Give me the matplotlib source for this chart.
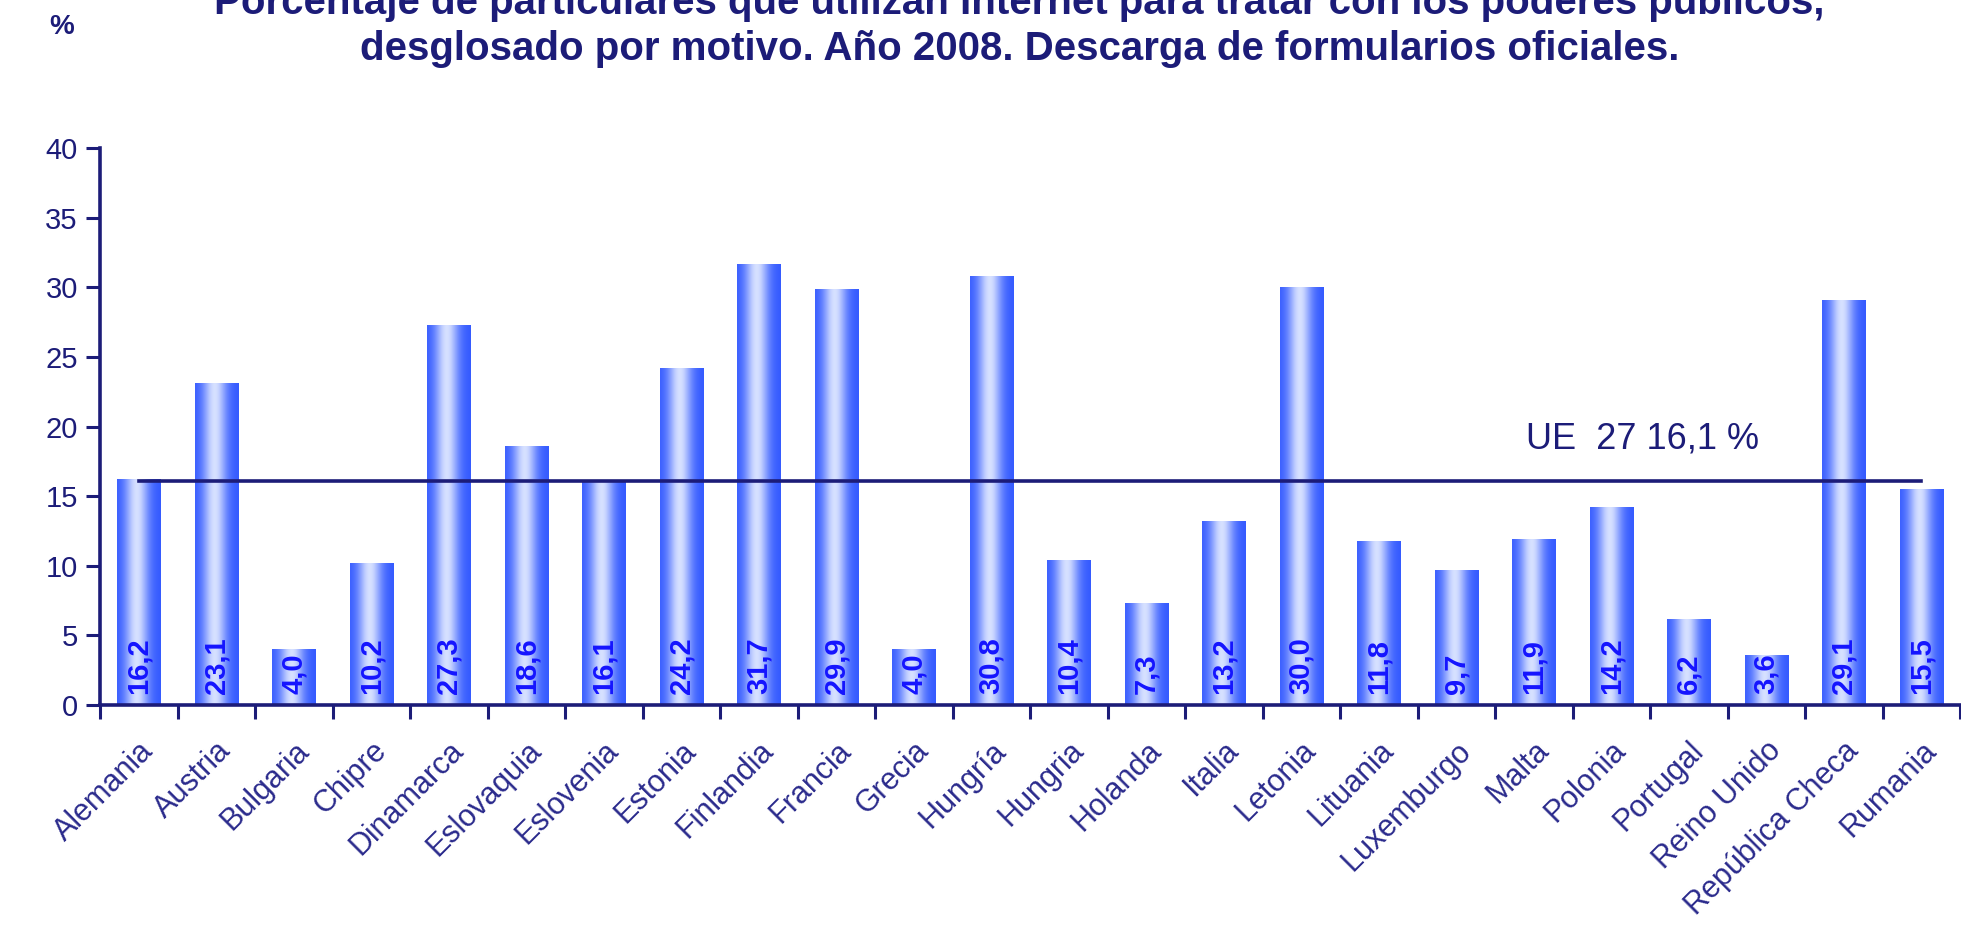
import numpy as np
import matplotlib
matplotlib.use("Agg")
import matplotlib.pyplot as plt

# ---------- DATA ----------
paises = ["Alemania", "Austria", "Bulgaria", "Chipre", "Dinamarca", "Eslovaquia",
          "Eslovenia", "Estonia", "Finlandia", "Francia", "Grecia", "Hungría",
          "Hungria", "Holanda", "Italia", "Letonia", "Lituania", "Luxemburgo",
          "Malta", "Polonia", "Portugal", "Reino Unido", "República Checa", "Rumania"]
valores = [16.2, 23.1, 4.0, 10.2, 27.3, 18.6, 16.1, 24.2, 31.7, 29.9, 4.0, 30.8,
           10.4, 7.3, 13.2, 30.0, 11.8, 9.7, 11.9, 14.2, 6.2, 3.6, 29.1, 15.5]
ue27 = 16.1
yticks = [0, 5, 10, 15, 20, 25, 30, 35, 40]

titulo1 = "Porcentaje de particulares que utilizan Internet para tratar con los poderes públicos,"
titulo2 = "desglosado por motivo. Año 2008. Descarga de formularios oficiales."
# --------------------------

NAVY = "#1c1c78"
LABEL = "#2a2a8c"
VALUE = "#1414ff"

plt.rcParams["font.family"] = ["Liberation Sans", "DejaVu Sans"]

fig = plt.figure(figsize=(19.61, 9.32), dpi=100)
ax = fig.add_axes([100 / 1961, 227 / 932, 1860 / 1961, 557 / 932])

x = np.arange(len(paises))
bars = ax.bar(x, valores, width=0.56, color="none", edgecolor="none", zorder=2)

# cylinder-like shading across each bar
t = np.linspace(0, 1, 80)
edge = np.array([0.20, 0.35, 1.0])
light = np.array([0.84, 0.88, 1.0])
w = np.exp(-((t - 0.45) / 0.27) ** 2)
grad = (edge[None, :] * (1 - w[:, None]) + light[None, :] * w[:, None])[None, :, :]
for b in bars:
    x0, h, bw = b.get_x(), b.get_height(), b.get_width()
    im = ax.imshow(grad, extent=(x0, x0 + bw, 0, h), aspect="auto",
                   interpolation="bilinear", zorder=2)
    im.set_clip_path(b)
    ax.text(x0 + bw / 2, 0.8, f"{h:.1f}".replace(".", ","), rotation=90,
            ha="center", va="bottom", color=VALUE, fontsize=21,
            fontweight="bold", zorder=4)

ax.plot([x[0], x[-1]], [ue27, ue27], color=NAVY, lw=2.6, zorder=3)
ax.text(17.9, 19.1, "UE  27 16,1 %", color=NAVY, fontsize=26, ha="left", va="center")

ax.set_xlim(-0.5, len(paises) - 0.5)
ax.set_ylim(0, 40)
ax.set_yticks(yticks)
ax.set_yticklabels([str(v) for v in yticks], fontsize=21, color=NAVY)
ax.set_xticks(np.arange(len(paises) + 1) - 0.5)
ax.set_xticklabels([])
ax.set_xticks(x, minor=True)
ax.set_xticklabels(paises, minor=True, rotation=45, ha="right",
                   rotation_mode="anchor", fontsize=22, color=LABEL)
ax.tick_params(axis="x", which="minor", length=0, pad=22)
ax.tick_params(axis="x", which="major", length=10, width=2.2, color=NAVY, direction="out")
ax.tick_params(axis="y", length=10, width=2.2, color=NAVY, direction="out", pad=6)
for s in ["top", "right"]:
    ax.spines[s].set_visible(False)
for s in ["left", "bottom"]:
    ax.spines[s].set_color(NAVY)
    ax.spines[s].set_linewidth(2.6)
ax.patch.set_alpha(0)

fig.text(0.52, 1 - 3 / 932, titulo1, ha="center", va="center", fontsize=29,
         fontweight="bold", color=NAVY)
fig.text(0.52, 1 - 49 / 932, titulo2, ha="center", va="center", fontsize=29,
         fontweight="bold", color=NAVY)
fig.text(62 / 1961, 1 - 27 / 932, "%", ha="center", va="center", fontsize=20,
         fontweight="bold", color=NAVY)

fig.savefig("out.png", dpi=100)
